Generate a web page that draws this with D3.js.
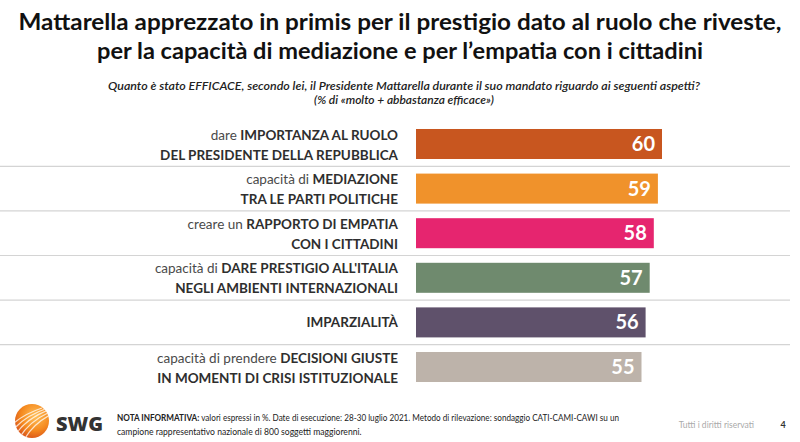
<!DOCTYPE html>
<html><head><meta charset="utf-8">
<script src="https://cdn.jsdelivr.net/npm/d3@7"></script>
<style>body{margin:0;background:#fff}svg{display:block}</style>
</head><body>
<svg id="c" width="800" height="442"></svg>
<script>
const titleLines = ["Mattarella apprezzato in primis per il prestigio dato al ruolo che riveste,",
  "per la capacità di mediazione e per l’empatia con i cittadini"];
const subtitleLines = ["Quanto è stato EFFICACE, secondo lei, il Presidente Mattarella durante il suo mandato riguardo ai seguenti aspetti?",
  "(% di «molto + abbastanza efficace»)"];
const categories = [
  "dare **IMPORTANZA AL RUOLO**|**DEL PRESIDENTE DELLA REPUBBLICA**",
  "capacità di **MEDIAZIONE**|**TRA LE PARTI POLITICHE**",
  "creare un **RAPPORTO DI EMPATIA**|**CON I CITTADINI**",
  "capacità di **DARE PRESTIGIO ALL'ITALIA**|**NEGLI AMBIENTI INTERNAZIONALI**",
  "**IMPARZIALITÀ**",
  "capacità di prendere **DECISIONI GIUSTE**|**IN MOMENTI DI CRISI ISTITUZIONALE**"
];
const values = [60, 59, 58, 57, 56, 55];
const colors = ["#C8561F", "#F0922B", "#E6256F", "#6F8A6E", "#5F516B", "#BDB3AA"];
const footnoteLines = [
  ["NOTA INFORMATIVA:", " valori espressi in %. Date di esecuzione: 28-30 luglio 2021. Metodo di rilevazione: sondaggio CATI-CAMI-CAWI su un"],
  ["", "campione rappresentativo nazionale di 800 soggetti maggiorenni."]
];

const svg = d3.select("#c");
const font = "Lato, 'Open Sans', sans-serif";

// Title
const tW = [763, 606];
titleLines.forEach((t, i) => {
  svg.append("text").attr("x", 400).attr("y", 30 + i * 29)
    .attr("text-anchor", "middle").attr("font-family", font).attr("font-weight", 700)
    .attr("font-size", 23).attr("fill", "#111")
    .attr("textLength", tW[i]).attr("lengthAdjust", "spacingAndGlyphs").text(t);
});
const sW = [592, 180];
subtitleLines.forEach((t, i) => {
  svg.append("text").attr("x", 404).attr("y", 90 + i * 14)
    .attr("text-anchor", "middle").attr("font-family", font).attr("font-style", "italic")
    .attr("font-weight", 600)
    .attr("font-size", 10.5).attr("fill", "#222")
    .attr("textLength", sW[i]).attr("lengthAdjust", "spacingAndGlyphs").text(t);
});

// Scales
const pad = 0.327;
const y = d3.scaleBand().domain(categories).range([121.7, 389.3]).paddingInner(pad).paddingOuter(pad / 2);
const x = d3.scaleLinear().domain([0, 60]).range([416, 662]);
const gap = y.step() * pad / 2;

// separators
svg.append("g").selectAll("line").data(categories.slice(0, -1)).join("line")
  .attr("x1", 0).attr("x2", 790)
  .attr("y1", d => y(d) + y.bandwidth() + gap).attr("y2", d => y(d) + y.bandwidth() + gap)
  .attr("stroke", "#d4d4d4").attr("stroke-width", 1.2);

// bars
svg.append("g").selectAll("rect").data(categories).join("rect")
  .attr("x", x(0)).attr("y", d => y(d))
  .attr("width", (d, i) => x(values[i]) - x(0)).attr("height", y.bandwidth())
  .attr("fill", (d, i) => colors[i]);

// value labels
svg.append("g").selectAll("text").data(categories).join("text")
  .attr("x", (d, i) => x(values[i]) - 7).attr("y", d => y(d) + y.bandwidth() / 2 + 7)
  .attr("text-anchor", "end").attr("font-family", font).attr("font-weight", 700)
  .attr("font-size", 20).attr("fill", "#fff").text((d, i) => values[i]);

// category labels
categories.forEach(c => {
  const lines = c.split("|");
  const cy = y(c) + y.bandwidth() / 2;
  lines.forEach((ln, li) => {
    const base = lines.length === 1 ? cy + 4.5 : cy - 4.5 + li * 20;
    const t = svg.append("text").attr("x", 398).attr("y", base)
      .attr("text-anchor", "end").attr("font-family", font).attr("font-size", 13.5);
    ln.split("**").forEach((part, pi) => {
      if (!part) return;
      const bold = pi % 2 === 1;
      t.append("tspan").attr("font-weight", bold ? 700 : 400)
        .attr("fill", bold ? "#2e2e2e" : "#4a4a4a").text(part);
    });
  });
});

// logo
const defs = svg.append("defs");
const rg = defs.append("radialGradient").attr("id", "lg").attr("cx", "60%").attr("cy", "35%").attr("r", "70%");
rg.append("stop").attr("offset", "0%").attr("stop-color", "#FFC05A");
rg.append("stop").attr("offset", "60%").attr("stop-color", "#F58A1F");
rg.append("stop").attr("offset", "100%").attr("stop-color", "#D9531A");
defs.append("clipPath").attr("id", "lc").append("circle").attr("cx", 32).attr("cy", 421).attr("r", 17);
svg.append("circle").attr("cx", 32).attr("cy", 421).attr("r", 17).attr("fill", "url(#lg)");
const lgG = svg.append("g").attr("clip-path", "url(#lc)");
[-10, -4, 2, 8, 14].forEach(o => {
  lgG.append("path")
    .attr("d", `M${10 + o},${440} Q${22 + o},${418} ${52 + o},${408}`)
    .attr("fill", "none").attr("stroke", "#fff").attr("stroke-opacity", 0.75).attr("stroke-width", 1.3);
});
svg.append("text").attr("x", 56).attr("y", 431).attr("font-family", "'Open Sans', sans-serif")
  .attr("font-weight", 800).attr("font-size", 20).attr("fill", "#333").text("SWG");

// footnote
const fW = [502, null];
footnoteLines.forEach((fl, i) => {
  const t = svg.append("text").attr("x", 117).attr("y", 421 + i * 14)
    .attr("font-family", font).attr("font-size", 8.6).attr("fill", "#222");
  if (fW[i]) t.attr("textLength", fW[i]).attr("lengthAdjust", "spacingAndGlyphs");
  if (fl[0]) t.append("tspan").attr("font-weight", 700).text(fl[0]);
  t.append("tspan").text(fl[1]);
});
svg.append("text").attr("x", 754).attr("y", 428).attr("text-anchor", "end")
  .attr("font-family", font).attr("font-size", 8.5).attr("fill", "#aaa").text("Tutti i diritti riservati");
svg.append("text").attr("x", 783).attr("y", 428).attr("text-anchor", "middle")
  .attr("font-family", font).attr("font-weight", 700).attr("font-size", 9).attr("fill", "#333").text("4");
</script>
</body></html>
